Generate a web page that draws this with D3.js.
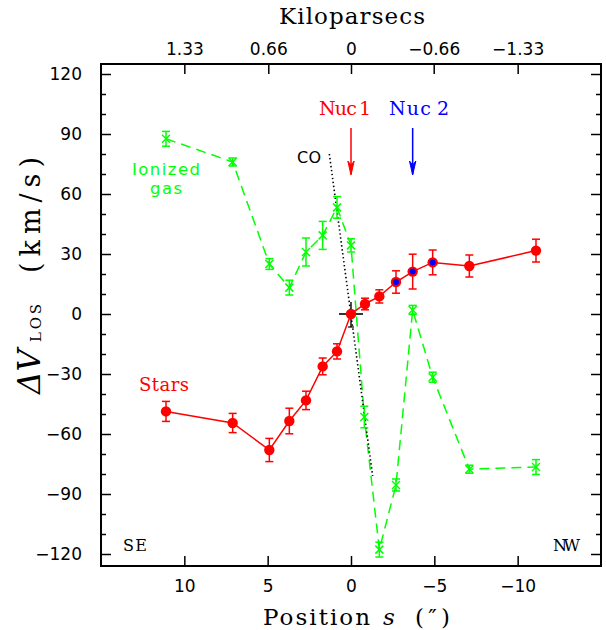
<!DOCTYPE html>
<html><head><meta charset="utf-8">
<script src="https://cdn.jsdelivr.net/npm/d3@7"></script>
<style>body{margin:0;background:#fff}svg{display:block}</style>
</head><body>
<svg id="c" width="606" height="630"></svg>
<script>
// ---- data ----
const starPos = [11.1, 7.1, 4.9, 3.7, 2.7, 1.7, 0.84, 0, -0.84, -1.7, -2.7, -3.7, -4.9, -7.1, -11.1];
const starV   = [-48.7, -54.5, -68, -53.5, -43.2, -26.2, -18.7, 0, 5, 8.8, 16, 21.2, 25.8, 24, 31.7];
const starErr = [5, 4.8, 5.8, 6.4, 4.6, 4.2, 3.8, 0, 2.9, 3.3, 5.6, 8.7, 6.2, 5.5, 5.7];
const starNuc2 = [false,false,false,false,false,false,false,false,false,false,true,true,true,false,false];

const gasPos = [11.1, 7.1, 4.9, 3.7, 2.7, 1.7, 0.84, 0, -0.8, -1.7, -2.7, -3.7, -4.9, -7.1, -11.1];
const gasV   = [87.6, 76, 25, 13.2, 31, 39.3, 53.3, 34.3, -51.5, -117.8, -85.5, 2, -31.6, -77.6, -76.5];
const gasErr = [3.7, 2, 2.7, 3.7, 7, 7, 5.4, 3.3, 5.4, 3.7, 3, 2.3, 2.5, 2, 3.7];

const coPos = [1.3, -1.3];
const coV   = [80, -81];

const xTicks = [10, 5, 0, -5, -10];
const yTicks = [-120, -90, -60, -30, 0, 30, 60, 90, 120];
const yMinor = [-110,-100,-80,-70,-50,-40,-20,-10,10,20,40,50,70,80,100,110];
const kpcTicks = [1.33, 0.66, 0, -0.66, -1.33];
const kpcTickLabels = ["1.33", "0.66", "0", "\u22120.66", "\u22121.33"];
const kpcPerArcsec = 0.133;

const nucPos = [0, -3.7];
const nucLabels = ["Nuc\u20091", "Nuc\u20092"];

// ---- scales ----
const svg = d3.select("#c");
const L = 101, R = 601, T = 64, B = 566;
const x = d3.scaleLinear().domain([15, -15]).range([L, R]);
const y = d3.scaleLinear().domain([-126, 125]).range([B, T]);
const xk = d3.scaleLinear().domain([15 * kpcPerArcsec, -15 * kpcPerArcsec]).range([L, R]);

const RED = "#ff0000", GREEN = "#00ff00", BLUE = "#0000ff";
const SANS = "DejaVu Sans", SERIF = "DejaVu Serif";

// ---- axes ----
function styleAxis(g) {
  g.select(".domain").remove();
  g.selectAll(".tick line").attr("stroke", "#000").attr("stroke-width", 1.5);
  g.selectAll("text").attr("fill", "#000");
  g.attr("font-family", SANS).attr("font-size", 17);
}
svg.append("g").attr("transform", `translate(${L},0)`)
  .call(d3.axisLeft(y).tickValues(yTicks).tickSizeInner(-10).tickSizeOuter(0).tickPadding(19)
    .tickFormat(d => d < 0 ? "\u2212" + Math.abs(d) : d))
  .call(styleAxis);
svg.append("g").attr("transform", `translate(${L},0)`)
  .call(d3.axisLeft(y).tickValues(yMinor).tickSizeInner(-5).tickSizeOuter(0).tickFormat(""))
  .call(styleAxis);
svg.append("g").attr("transform", `translate(${R},0)`)
  .call(d3.axisRight(y).tickValues(yTicks).tickSizeInner(-10).tickSizeOuter(0).tickFormat(""))
  .call(styleAxis);
svg.append("g").attr("transform", `translate(${R},0)`)
  .call(d3.axisRight(y).tickValues(yMinor).tickSizeInner(-5).tickSizeOuter(0).tickFormat(""))
  .call(styleAxis);
svg.append("g").attr("transform", `translate(0,${B})`)
  .call(d3.axisBottom(x).tickValues(xTicks).tickSizeInner(-10).tickSizeOuter(0).tickPadding(14)
    .tickFormat(d => d < 0 ? "\u2212" + Math.abs(d) : d))
  .call(styleAxis);
svg.append("g").attr("transform", `translate(0,${T})`)
  .call(d3.axisTop(xk).tickValues(kpcTicks).tickSizeInner(-10).tickSizeOuter(0).tickPadding(9)
    .tickFormat((d, i) => kpcTickLabels[i]))
  .call(styleAxis);

svg.append("rect").attr("x", L).attr("y", T).attr("width", R - L).attr("height", B - T)
  .attr("fill", "none").attr("stroke", "#000").attr("stroke-width", 2);

// ---- axis titles ----
svg.append("text").attr("x", 279).attr("y", 24).attr("font-family", SERIF).attr("font-size", 23)
  .attr("textLength", 146).attr("lengthAdjust", "spacing").text("Kiloparsecs");
const xl = svg.append("g").attr("font-family", SERIF).attr("font-size", 23);
xl.append("text").attr("x", 263).attr("y", 625).attr("textLength", 107).attr("lengthAdjust", "spacing").text("Position");
xl.append("text").attr("x", 383).attr("y", 625).attr("font-style", "italic").text("s");
xl.append("text").attr("x", 415).attr("y", 625).attr("textLength", 35).attr("lengthAdjust", "spacing").text("(\u2033)");

const yl = svg.append("g").attr("transform", "translate(40,275) rotate(-90)").attr("font-family", SERIF);
yl.append("text").attr("x", -119).attr("y", 0).attr("font-size", 31).attr("font-style", "italic")
  .text("\u0394V");
yl.append("text").attr("x", -67).attr("y", 1).attr("font-size", 15)
  .attr("textLength", 38).attr("lengthAdjust", "spacing").text("LOS");
yl.append("text").attr("x", 2).attr("y", 0).attr("font-size", 27)
  .attr("textLength", 116).attr("lengthAdjust", "spacing").text("(km/s)");

// ---- corner labels ----
svg.append("text").attr("x", 123).attr("y", 551).attr("font-family", SERIF).attr("font-size", 16)
  .attr("textLength", 24).attr("lengthAdjust", "spacing").text("SE");
svg.append("text").attr("x", 553).attr("y", 551).attr("font-family", SERIF).attr("font-size", 16)
  .attr("textLength", 27).attr("lengthAdjust", "spacing").text("NW");

// ---- plot ----
const plot = svg.append("g");
const line = d3.line().x(d => x(d[0])).y(d => y(d[1]));

// gas dashed line
plot.append("path").datum(gasPos.map((p, i) => [p, gasV[i]]))
  .attr("d", line).attr("fill", "none").attr("stroke", GREEN).attr("stroke-width", 1.5)
  .attr("stroke-dasharray", "10,6");

// CO dotted line
plot.append("path").datum(coPos.map((p, i) => [p, coV[i]]))
  .attr("d", line).attr("fill", "none").attr("stroke", "#000").attr("stroke-width", 1.6)
  .attr("stroke-dasharray", "1.4,2.6");

// gas error bars and markers
gasPos.forEach((p, i) => {
  const cx = x(p), cy = y(gasV[i]), y1 = y(gasV[i] - gasErr[i]), y2 = y(gasV[i] + gasErr[i]);
  const g = plot.append("g").attr("stroke", GREEN).attr("stroke-width", 1.5);
  g.append("line").attr("x1", cx).attr("x2", cx).attr("y1", y1).attr("y2", y2);
  g.append("line").attr("x1", cx - 4).attr("x2", cx + 4).attr("y1", y1).attr("y2", y1);
  g.append("line").attr("x1", cx - 4).attr("x2", cx + 4).attr("y1", y2).attr("y2", y2);
  g.append("line").attr("x1", cx - 4).attr("x2", cx + 4).attr("y1", cy - 4).attr("y2", cy + 4);
  g.append("line").attr("x1", cx - 4).attr("x2", cx + 4).attr("y1", cy + 4).attr("y2", cy - 4);
});

// black cross at origin
const ox = x(0), oy = y(0);
plot.append("line").attr("x1", x(0.72)).attr("x2", x(-0.72)).attr("y1", oy).attr("y2", oy)
  .attr("stroke", "#000").attr("stroke-width", 1.6);
plot.append("line").attr("x1", ox).attr("x2", ox).attr("y1", y(6)).attr("y2", y(-6.5))
  .attr("stroke", "#000").attr("stroke-width", 1.4);
plot.append("line").attr("x1", ox - 3).attr("x2", ox + 3).attr("y1", y(-6.5)).attr("y2", y(-6.5))
  .attr("stroke", "#000").attr("stroke-width", 1.2);

// stars line
plot.append("path").datum(starPos.map((p, i) => [p, starV[i]]))
  .attr("d", line).attr("fill", "none").attr("stroke", RED).attr("stroke-width", 1.5);

starPos.forEach((p, i) => {
  const cx = x(p), cy = y(starV[i]);
  if (starErr[i] > 0) {
    const y1 = y(starV[i] - starErr[i]), y2 = y(starV[i] + starErr[i]);
    const g = plot.append("g").attr("stroke", RED).attr("stroke-width", 1.5);
    g.append("line").attr("x1", cx).attr("x2", cx).attr("y1", y1).attr("y2", y2);
    g.append("line").attr("x1", cx - 4).attr("x2", cx + 4).attr("y1", y1).attr("y2", y1);
    g.append("line").attr("x1", cx - 4).attr("x2", cx + 4).attr("y1", y2).attr("y2", y2);
  }
  plot.append("circle").attr("cx", cx).attr("cy", cy).attr("r", 5.2).attr("fill", RED);
  if (starNuc2[i]) plot.append("circle").attr("cx", cx).attr("cy", cy).attr("r", 3).attr("fill", BLUE);
});

// ---- annotations ----
const nucColors = [RED, BLUE];
nucPos.forEach((p, i) => {
  const ax = x(p), c = nucColors[i];
  plot.append("line").attr("x1", ax).attr("x2", ax).attr("y1", y(93)).attr("y2", y(70))
    .attr("stroke", c).attr("stroke-width", 1.5);
  plot.append("path").attr("d", `M${ax - 3.2},${y(76.5)} L${ax},${y(69.5)} L${ax + 3.2},${y(76.5)} L${ax},${y(74.5)} Z`)
    .attr("fill", c).attr("stroke", c).attr("stroke-width", 1);
});
svg.append("text").attr("x", 319).attr("y", 115).attr("fill", RED).attr("font-family", SERIF)
  .attr("font-size", 19).attr("textLength", 52).attr("lengthAdjust", "spacing").text(nucLabels[0]);
svg.append("text").attr("x", 389).attr("y", 115).attr("fill", BLUE).attr("font-family", SERIF)
  .attr("font-size", 19).attr("textLength", 60).attr("lengthAdjust", "spacing").text(nucLabels[1]);

svg.append("text").attr("x", 297).attr("y", 163).attr("font-family", SANS).attr("font-size", 16)
  .attr("textLength", 24).attr("lengthAdjust", "spacing").text("CO");
svg.append("text").attr("x", 139).attr("y", 391).attr("fill", RED).attr("font-family", SERIF)
  .attr("font-size", 18).attr("textLength", 50).attr("lengthAdjust", "spacing").text("Stars");
svg.append("text").attr("x", 132).attr("y", 175).attr("fill", GREEN).attr("font-family", SANS)
  .attr("font-size", 16.5).attr("textLength", 68).attr("lengthAdjust", "spacing").text("Ionized");
svg.append("text").attr("x", 150).attr("y", 194).attr("fill", GREEN).attr("font-family", SANS)
  .attr("font-size", 16.5).attr("textLength", 32).attr("lengthAdjust", "spacing").text("gas");
</script>
</body></html>
